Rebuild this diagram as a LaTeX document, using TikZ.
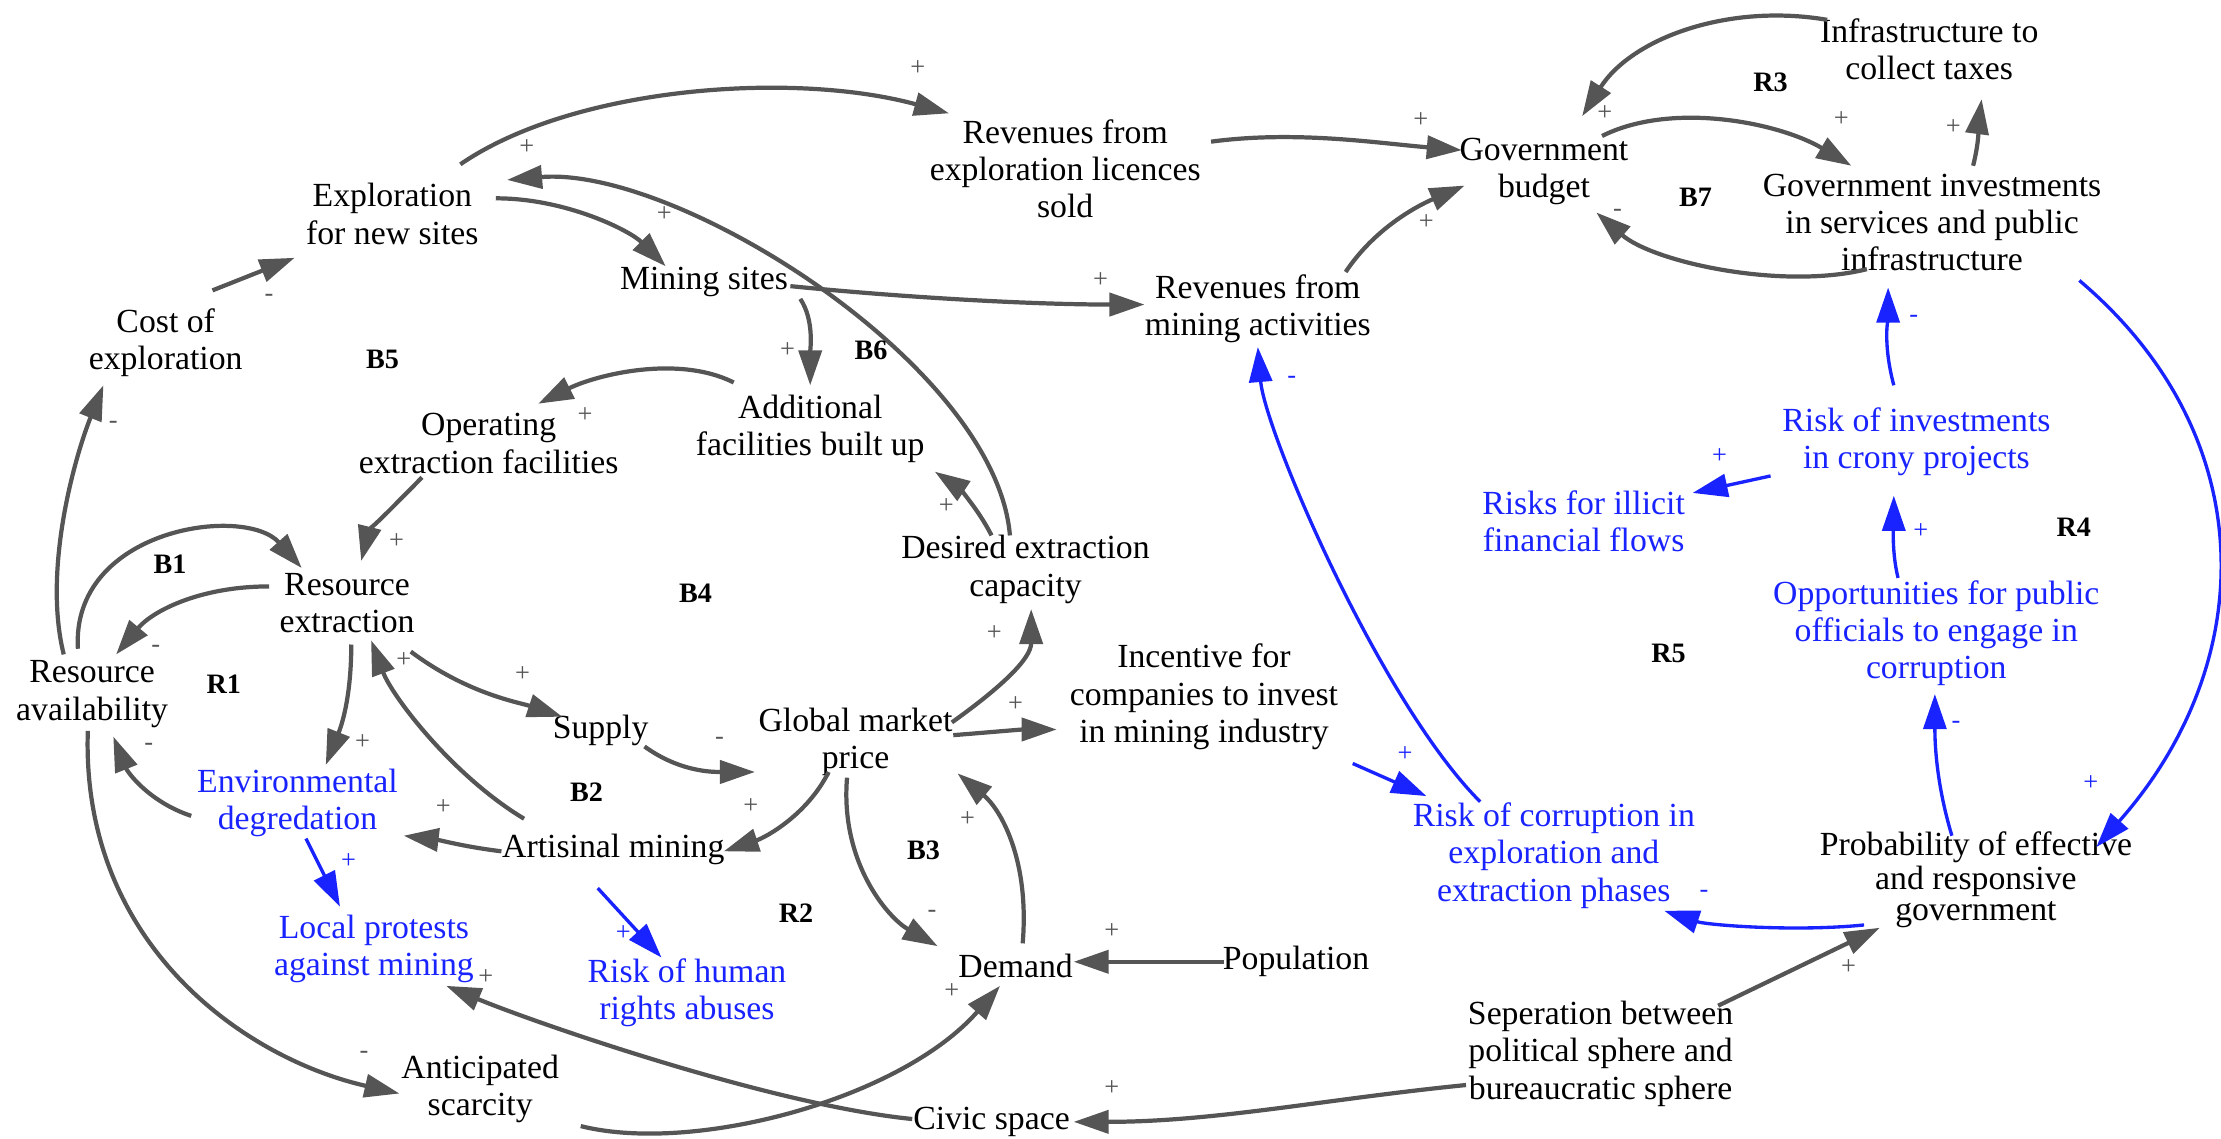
\documentclass[tikz,border=0pt]{standalone}
\usepackage{fontspec}
\setmainfont{Liberation Serif}
\usetikzlibrary{arrows.meta,calc}
\definecolor{lnk}{HTML}{555555}
\definecolor{bl}{RGB}{25,35,255}
\begin{document}
\begin{tikzpicture}[x=0.014165cm,y=-0.014165cm,
  var/.style={align=center,inner sep=1pt,font=\fontsize{9.6}{10.6}\selectfont},
  bvar/.style={var,text=bl},
  ar/.style={draw=lnk,line width=1.2pt,-{Triangle[length=0.35cm,width=0.23cm]}},
  blar/.style={draw=bl,line width=0.95pt,-{Triangle[length=0.35cm,width=0.23cm]}},
  sg/.style={text=lnk,font=\fontsize{7.5}{7.5}\selectfont,inner sep=0pt},
  bsg/.style={sg,text=bl},
  looplab/.style={font=\bfseries\fontsize{8}{8}\selectfont,inner sep=0pt}]
\useasboundingbox (0,0) rectangle (1568,804);
% variables
\node[var] (expl) at (277,151) {Exploration\\for new sites};
\node[var] (cost) at (117,242) {Cost of\\exploration};
\node[var] (revlic) at (752,119) {Revenues from\\exploration licences\\sold};
\node[var] (govbud) at (1090,121) {Government\\budget};
\node[var] (infra) at (1362,35) {Infrastructure to\\collect taxes};
\node[var] (govinv) at (1364,157) {Government investments\\in services and public\\infrastructure};
\node[var] (mining) at (497,199) {Mining sites};
\node[var] (revmin) at (888,218) {Revenues from\\mining activities};
\node[var] (opext) at (345,313) {Operating\\extraction facilities};
\node[var] (addfac) at (572,303) {Additional\\facilities built up};
\node[var] (desired) at (724,402) {Desired extraction\\capacity};
\node[var] (resext) at (245,426) {Resource\\extraction};
\node[var] (resav) at (65,490) {Resource\\availability};
\node[var] (supply) at (424,516) {Supply};
\node[var] (gmp) at (604,524) {Global market\\price};
\node[var] (incent) at (850,492) {Incentive for\\companies to invest\\in mining industry};
\node[bvar] (envdeg) at (210,567) {Environmental\\degredation};
\node[var] (artis) at (433,600) {Artisinal mining};
\node[bvar] (localp) at (264,670) {Local protests\\against mining};
\node[bvar] (humanr) at (485,701) {Risk of human\\rights abuses};
\node[var] (demand) at (717,682) {Demand};
\node[var] (popul) at (915,679) {Population};
\node[var] (anticip) at (339,769) {Anticipated\\scarcity};
\node[var] (civic) at (700,792) {Civic space};
\node[var] (sep) at (1130,744) {Seperation between\\political sphere and\\bureaucratic sphere};
\node[bvar] (riskcor) at (1097,604) {Risk of corruption in\\exploration and\\extraction phases};
\node[var,font=\fontsize{9.6}{8.6}\selectfont] (prob) at (1395,621) {Probability of effective\\and responsive\\government};
\node[bvar] (riskinv) at (1353,312) {Risk of investments\\in crony projects};
\node[bvar] (illicit) at (1118,368) {Risks for illicit\\financial flows};
\node[bvar] (opport) at (1367,447) {Opportunities for public\\officials to engage in\\corruption};
% connectors
\draw[ar] ($(expl)+(48,-35)$) .. controls +(80,-55) and +(-110,-30) .. ($(revlic)+(-82,-39)$);
\draw[ar] ($(revlic)+(103,-19)$) .. controls +(60,-8) and +(-60,-5) .. ($(govbud)+(-58,-15)$);
\draw[ar] ($(revmin)+(62,-26)$) .. controls +(20,-30) and +(-35,15) .. ($(govbud)+(-56,10)$);
\draw[ar] ($(mining)+(61,3)$) .. controls +(80,8) and +(-80,0) .. ($(revmin)+(-80,-3)$);
\draw[ar] ($(infra)+(-72,-21)$) .. controls +(-70,-12) and +(35,-55) .. ($(govbud)+(27,-39)$);
\draw[ar] ($(govbud)+(41,-25)$) .. controls +(50,-25) and +(-50,-30) .. ($(govinv)+(-57,-40)$);
\draw[ar] ($(govinv)+(29,-40)$) .. controls +(5,-20) and +(-2,15) .. ($(infra)+(37,35)$);
\draw[ar] ($(govinv)+(-46,33)$) .. controls +(-60,15) and +(40,35) .. ($(govbud)+(37,29)$);
\draw[ar] ($(expl)+(73,-11)$) .. controls +(50,0) and +(-25,-25) .. ($(mining)+(-27,-11)$);
\draw[ar] ($(desired)+(-11,-24)$) .. controls +(-10,-120) and +(120,-10) .. ($(expl)+(81,-24)$);
\draw[ar] ($(cost)+(33,-37)$) -- ($(expl)+(-69,31)$);
\draw[ar] ($(resav)+(-20,-28)$) .. controls +(-15,-60) and +(-20,50) .. ($(cost)+(-44,30)$);
\draw[ar] ($(mining)+(68,12)$) .. controls +(10,15) and +(0,-25) .. ($(addfac)+(0,-31)$);
\draw[ar] ($(addfac)+(-54,-33)$) .. controls +(-40,-20) and +(40,-20) .. ($(opext)+(35,-28)$);
\draw[ar] ($(opext)+(-47,24)$) .. controls +(-15,15) and +(5,-20) .. ($(resext)+(10,-30)$);
\draw[ar] ($(resav)+(-10,-32)$) .. controls +(-5,-85) and +(-40,-45) .. ($(resext)+(-32,-25)$);
\draw[ar] ($(resext)+(-55,-12)$) .. controls +(-50,0) and +(25,-30) .. ($(resav)+(17,-28)$);
\draw[ar] ($(resext)+(3,29)$) .. controls +(0,40) and +(10,-25) .. ($(envdeg)+(20,-27)$);
\draw[ar] ($(artis)+(-63,-22)$) .. controls +(-50,-30) and +(15,40) .. ($(resext)+(17,26)$);
\draw[ar] ($(resext)+(45,34)$) .. controls +(40,30) and +(-30,-10) .. ($(supply)+(-27,-10)$);
\draw[ar] ($(supply)+(31,11)$) .. controls +(25,18) and +(-30,0) .. ($(gmp)+(-71,21)$);
\draw[ar] ($(gmp)+(-19,21)$) .. controls +(-15,30) and +(30,-10) .. ($(artis)+(78,1)$);
\draw[ar] ($(gmp)+(68,-14)$) .. controls +(35,-25) and +(0,35) .. ($(desired)+(4,28)$);
\draw[ar] ($(gmp)+(69,-5)$) .. controls +(25,-2) and +(-25,0) .. ($(incent)+(-104,23)$);
\draw[ar] ($(desired)+(-24,-24)$) .. controls +(-10,-20) and +(15,10) .. ($(addfac)+(88,30)$);
\draw[ar] ($(gmp)+(-6,25)$) .. controls +(-5,60) and +(-35,-20) .. ($(demand)+(-55,-14)$);
\draw[ar] ($(demand)+(5,-16)$) .. controls +(5,-60) and +(30,25) .. ($(gmp)+(72,22)$);
\draw[ar] ($(popul)+(-51,0)$) -- ($(demand)+(41,-3)$);
\draw[ar] ($(artis)+(-79,1)$) .. controls +(-25,-3) and +(25,3) .. ($(envdeg)+(75,23)$);
\draw[ar] ($(envdeg)+(-75,9)$) .. controls +(-30,-10) and +(10,25) .. ($(resav)+(15,30)$);
\draw[blar] ($(envdeg)+(6,25)$) -- ($(localp)+(-24,-30)$);
\draw[blar] ($(artis)+(-11,27)$) -- ($(humanr)+(-18,-25)$);
\draw[ar] ($(resav)+(-3,26)$) .. controls +(-5,150) and +(-110,-25) .. ($(anticip)+(-57,3)$);
\draw[ar] ($(anticip)+(71,26)$) .. controls +(80,20) and +(-70,80) .. ($(demand)+(-11,14)$);
\draw[ar] ($(civic)+(-56,-2)$) .. controls +(-100,-10) and +(60,25) .. ($(localp)+(51,26)$);
\draw[ar] ($(sep)+(-95,22)$) .. controls +(-100,10) and +(100,0) .. ($(civic)+(58,0)$);
\draw[ar] ($(sep)+(83,-34)$) -- ($(prob)+(-68,34)$);
\draw[blar] ($(prob)+(-79,32)$) .. controls +(-50,5) and +(30,10) .. ($(riskcor)+(78,39)$);
\draw[blar] ($(incent)+(105,47)$) -- ($(riskcor)+(-90,-42)$);
\draw[blar] ($(riskcor)+(-52,-38)$) .. controls +(-70,-70) and +(5,60) .. ($(revmin)+(0,27)$);
\draw[blar] ($(prob)+(-17,-31)$) .. controls +(-12,-40) and +(0,30) .. ($(opport)+(-1,43)$);
\draw[blar] ($(opport)+(-27,-39)$) .. controls +(-5,-20) and +(0,15) .. ($(riskinv)+(-16,38)$);
\draw[blar] ($(riskinv)+(-103,24)$) -- ($(illicit)+(77,-20)$);
\draw[blar] ($(riskinv)+(-16,-40)$) .. controls +(-8,-30) and +(0,20) .. ($(govinv)+(-31,46)$);
\draw[blar] ($(govinv)+(104,41)$) .. controls +(130,110) and +(115,-130) .. ($(prob)+(85,-23)$);
% polarity signs
\node[sg] (p1) at (648,48) {+};
\node[sg] (p2) at (1003,85) {+};
\node[sg] (p3) at (1007,157) {+};
\node[sg] (p4) at (777,198) {+};
\node[sg] (p5) at (1133,80) {+};
\node[sg] (p6) at (1300,84) {+};
\node[sg] (p7) at (1379,90) {+};
\node[sg] (p8) at (1142,150) {-};
\node[sg] (p9) at (469,151) {+};
\node[sg] (p10) at (372,104) {+};
\node[sg] (p11) at (190,210) {-};
\node[sg] (p12) at (80,300) {-};
\node[sg] (p13) at (556,247) {+};
\node[sg] (p14) at (413,293) {+};
\node[sg] (p15) at (280,382) {+};
\node[sg] (p16) at (199,390) {+};
\node[sg] (p17) at (110,458) {-};
\node[sg] (p18) at (256,524) {+};
\node[sg] (p19) at (285,466) {+};
\node[sg] (p20) at (369,476) {+};
\node[sg] (p21) at (508,523) {-};
\node[sg] (p22) at (530,569) {+};
\node[sg] (p23) at (702,447) {+};
\node[sg] (p24) at (717,497) {+};
\node[sg] (p25) at (668,357) {+};
\node[sg] (p26) at (658,645) {-};
\node[sg] (p27) at (683,578) {+};
\node[sg] (p28) at (785,657) {+};
\node[sg] (p29) at (313,570) {+};
\node[sg] (p30) at (105,527) {-};
\node[bsg] (p31) at (246,608) {+};
\node[bsg] (p32) at (440,659) {+};
\node[sg] (p33) at (257,745) {-};
\node[sg] (p34) at (672,700) {+};
\node[sg] (p35) at (343,690) {+};
\node[sg] (p36) at (785,768) {+};
\node[sg] (p37) at (1305,683) {+};
\node[bsg] (p38) at (1203,631) {-};
\node[bsg] (p39) at (992,532) {+};
\node[bsg] (p40) at (912,268) {-};
\node[bsg] (p41) at (1381,512) {-};
\node[bsg] (p42) at (1356,375) {+};
\node[bsg] (p43) at (1214,322) {+};
\node[bsg] (p44) at (1351,225) {-};
\node[bsg] (p45) at (1476,553) {+};
% loop labels
\node[looplab] (lB5) at (270,254) {B5};
\node[looplab] (lB6) at (615,247) {B6};
\node[looplab] (lR3) at (1250,58) {R3};
\node[looplab] (lB7) at (1197,139) {B7};
\node[looplab] (lB1) at (120,398) {B1};
\node[looplab] (lB4) at (491,419) {B4};
\node[looplab] (lR1) at (158,483) {R1};
\node[looplab] (lB2) at (414,559) {B2};
\node[looplab] (lB3) at (652,600) {B3};
\node[looplab] (lR2) at (562,645) {R2};
\node[looplab] (lR4) at (1464,372) {R4};
\node[looplab] (lR5) at (1178,461) {R5};
\end{tikzpicture}
\end{document}
